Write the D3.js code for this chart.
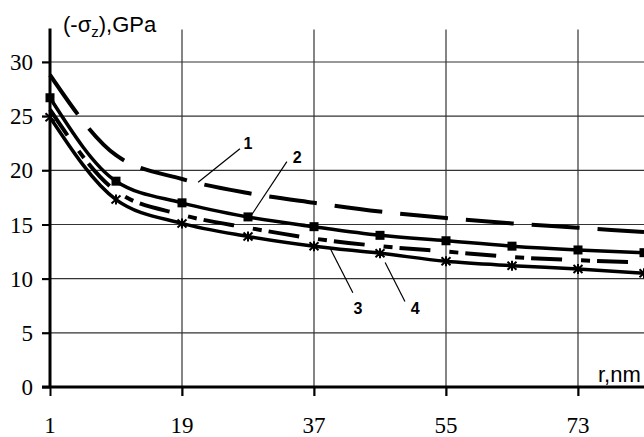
<!DOCTYPE html>
<html>
<head>
<meta charset="utf-8">
<script src="https://cdn.jsdelivr.net/npm/d3@7"></script>
<style>
  body { margin: 0; background: #fff; }
  svg { display: block; }
  .grid line { stroke: #333; stroke-width: 1.2; }
  .tick-label { font-family: "Liberation Serif", "Times New Roman", serif; font-size: 23px; fill: #000; }
  .title { font-family: "Liberation Sans", Arial, sans-serif; font-size: 22px; fill: #000; }
  .num { font-family: "Liberation Sans", Arial, sans-serif; font-size: 16px; font-weight: bold; fill: #000; }
</style>
</head>
<body>
<div id="chartDiv"></div>
<script>
// values
let radius = [1, 10, 19, 28, 37, 46, 55, 64, 73, 82];
let curve1 = [28.8, 21.4, 19.2, 17.9, 17.0, 16.2, 15.6, 15.1, 14.7, 14.3];
let curve2 = [26.7, 19.0, 17.0, 15.7, 14.8, 14.0, 13.5, 13.0, 12.65, 12.4];
let curve3 = [24.9, 17.3, 15.1, 13.9, 13.0, 12.35, 11.6, 11.2, 10.9, 10.5];
let curve4 = [25.6, 18.1, 15.9, 14.7, 13.7, 13.0, 12.5, 12.0, 11.7, 11.5];
let xTicks = [1, 19, 37, 55, 73];
let yTicks = [0, 5, 10, 15, 20, 25, 30];

// curve number labels: text position and leader line end, in data units
let labels = [
    {text: '1', r: 28, v: 22.5, from: [26.9, 22.0], to: [21.2, 18.9]},
    {text: '2', r: 34.7, v: 21.2, from: [33.3, 20.8], to: [28.5, 15.9]},
    {text: '3', r: 43, v: 7.3, from: [42.3, 8.7], to: [39.2, 12.8]},
    {text: '4', r: 50.8, v: 7.3, from: [49.4, 7.9], to: [46.7, 11.5]}
];

let width = 644, height = 437;
let svg = d3.select('#chartDiv').append('svg')
    .attr('width', width).attr('height', height);

let x = d3.scaleLinear().domain([1, 82]).range([50, 644]);
let y = d3.scaleLinear().domain([0, 33]).range([387, 29.5]);

// grid
let grid = svg.append('g').attr('class', 'grid');
grid.selectAll('.h').data(yTicks.slice(1)).enter().append('line')
    .attr('x1', 42).attr('x2', width)
    .attr('y1', d => y(d)).attr('y2', d => y(d));
grid.selectAll('.v').data(xTicks.slice(1)).enter().append('line')
    .attr('x1', d => x(d)).attr('x2', d => x(d))
    .attr('y1', y(33)).attr('y2', y(0) + 9);

// axes
svg.append('g')
    .attr('transform', 'translate(0,' + y(0) + ')')
    .call(d3.axisBottom(x).tickValues(xTicks).tickSize(9).tickFormat(''))
    .call(g => g.select('.domain').remove())
    .call(g => g.selectAll('line').attr('stroke', '#000').attr('stroke-width', 2));
svg.append('line').attr('x1', 42).attr('x2', width)
    .attr('y1', y(0)).attr('y2', y(0))
    .attr('stroke', '#000').attr('stroke-width', 3);
svg.append('g')
    .attr('transform', 'translate(' + x(1) + ',0)')
    .call(d3.axisLeft(y).tickValues(yTicks).tickSize(8).tickFormat(''))
    .call(g => g.select('.domain').remove())
    .call(g => g.selectAll('line').attr('stroke', '#000').attr('stroke-width', 2));
svg.append('line').attr('x1', x(1)).attr('x2', x(1))
    .attr('y1', y(33) - 1).attr('y2', y(0))
    .attr('stroke', '#000').attr('stroke-width', 3);

svg.selectAll('.xl').data(xTicks).enter().append('text')
    .attr('class', 'tick-label')
    .attr('x', d => x(d)).attr('y', 433)
    .attr('text-anchor', 'middle')
    .text(d => d);
svg.selectAll('.yl').data(yTicks).enter().append('text')
    .attr('class', 'tick-label')
    .attr('x', 33).attr('y', d => y(d) + 8)
    .attr('text-anchor', 'end')
    .text(d => d);

// axis titles
let t = svg.append('text').attr('class', 'title').attr('x', 63).attr('y', 32);
t.append('tspan').text('(-σ');
t.append('tspan').attr('font-size', 15).attr('dy', 5).text('z');
t.append('tspan').attr('dy', -5).text('),GPa');
svg.append('text').attr('class', 'title').attr('x', 598).attr('y', 382).text('r,nm');

// curves
let line = d3.line()
    .x(d => x(d[0])).y(d => y(d[1]))
    .curve(d3.curveMonotoneX);
let series = [
    {v: curve1, dash: '48,18', w: 4},
    {v: curve2, dash: null, w: 3.5},
    {v: curve3, dash: null, w: 3.5},
    {v: curve4, dash: '31,19,9,7', w: 4}
];
series.forEach(function(s) {
    svg.append('path')
        .datum(radius.map((r, i) => [r, s.v[i]]))
        .attr('d', line)
        .attr('fill', 'none')
        .attr('stroke', '#000')
        .attr('stroke-width', s.w)
        .attr('stroke-dasharray', s.dash);
});

// markers: squares on curve 2, stars on curve 3
svg.selectAll('.sq').data(radius).enter().append('rect')
    .attr('x', (d) => x(d) - 4.5)
    .attr('y', (d, i) => y(curve2[i]) - 4.5)
    .attr('width', 9).attr('height', 9)
    .attr('fill', '#000');
svg.selectAll('.star').data(radius).enter().append('path')
    .attr('d', function(d, i) {
        let cx = x(d), cy = y(curve3[i]);
        return 'M' + (cx - 4.5) + ',' + (cy - 4) + 'L' + (cx + 4.5) + ',' + (cy + 4) +
            'M' + (cx - 4.5) + ',' + (cy + 4) + 'L' + (cx + 4.5) + ',' + (cy - 4) +
            'M' + cx + ',' + (cy - 5) + 'L' + cx + ',' + (cy + 5);
    })
    .attr('stroke', '#000').attr('stroke-width', 2).attr('fill', 'none');

// curve numbers with leader lines
svg.selectAll('.lead').data(labels).enter().append('line')
    .attr('x1', d => x(d.from[0])).attr('y1', d => y(d.from[1]))
    .attr('x2', d => x(d.to[0])).attr('y2', d => y(d.to[1]))
    .attr('stroke', '#000').attr('stroke-width', 1.2);
svg.selectAll('.num').data(labels).enter().append('text')
    .attr('class', 'num')
    .attr('x', d => x(d.r)).attr('y', d => y(d.v) + 6)
    .attr('text-anchor', 'middle')
    .text(d => d.text);
</script>
</body>
</html>
